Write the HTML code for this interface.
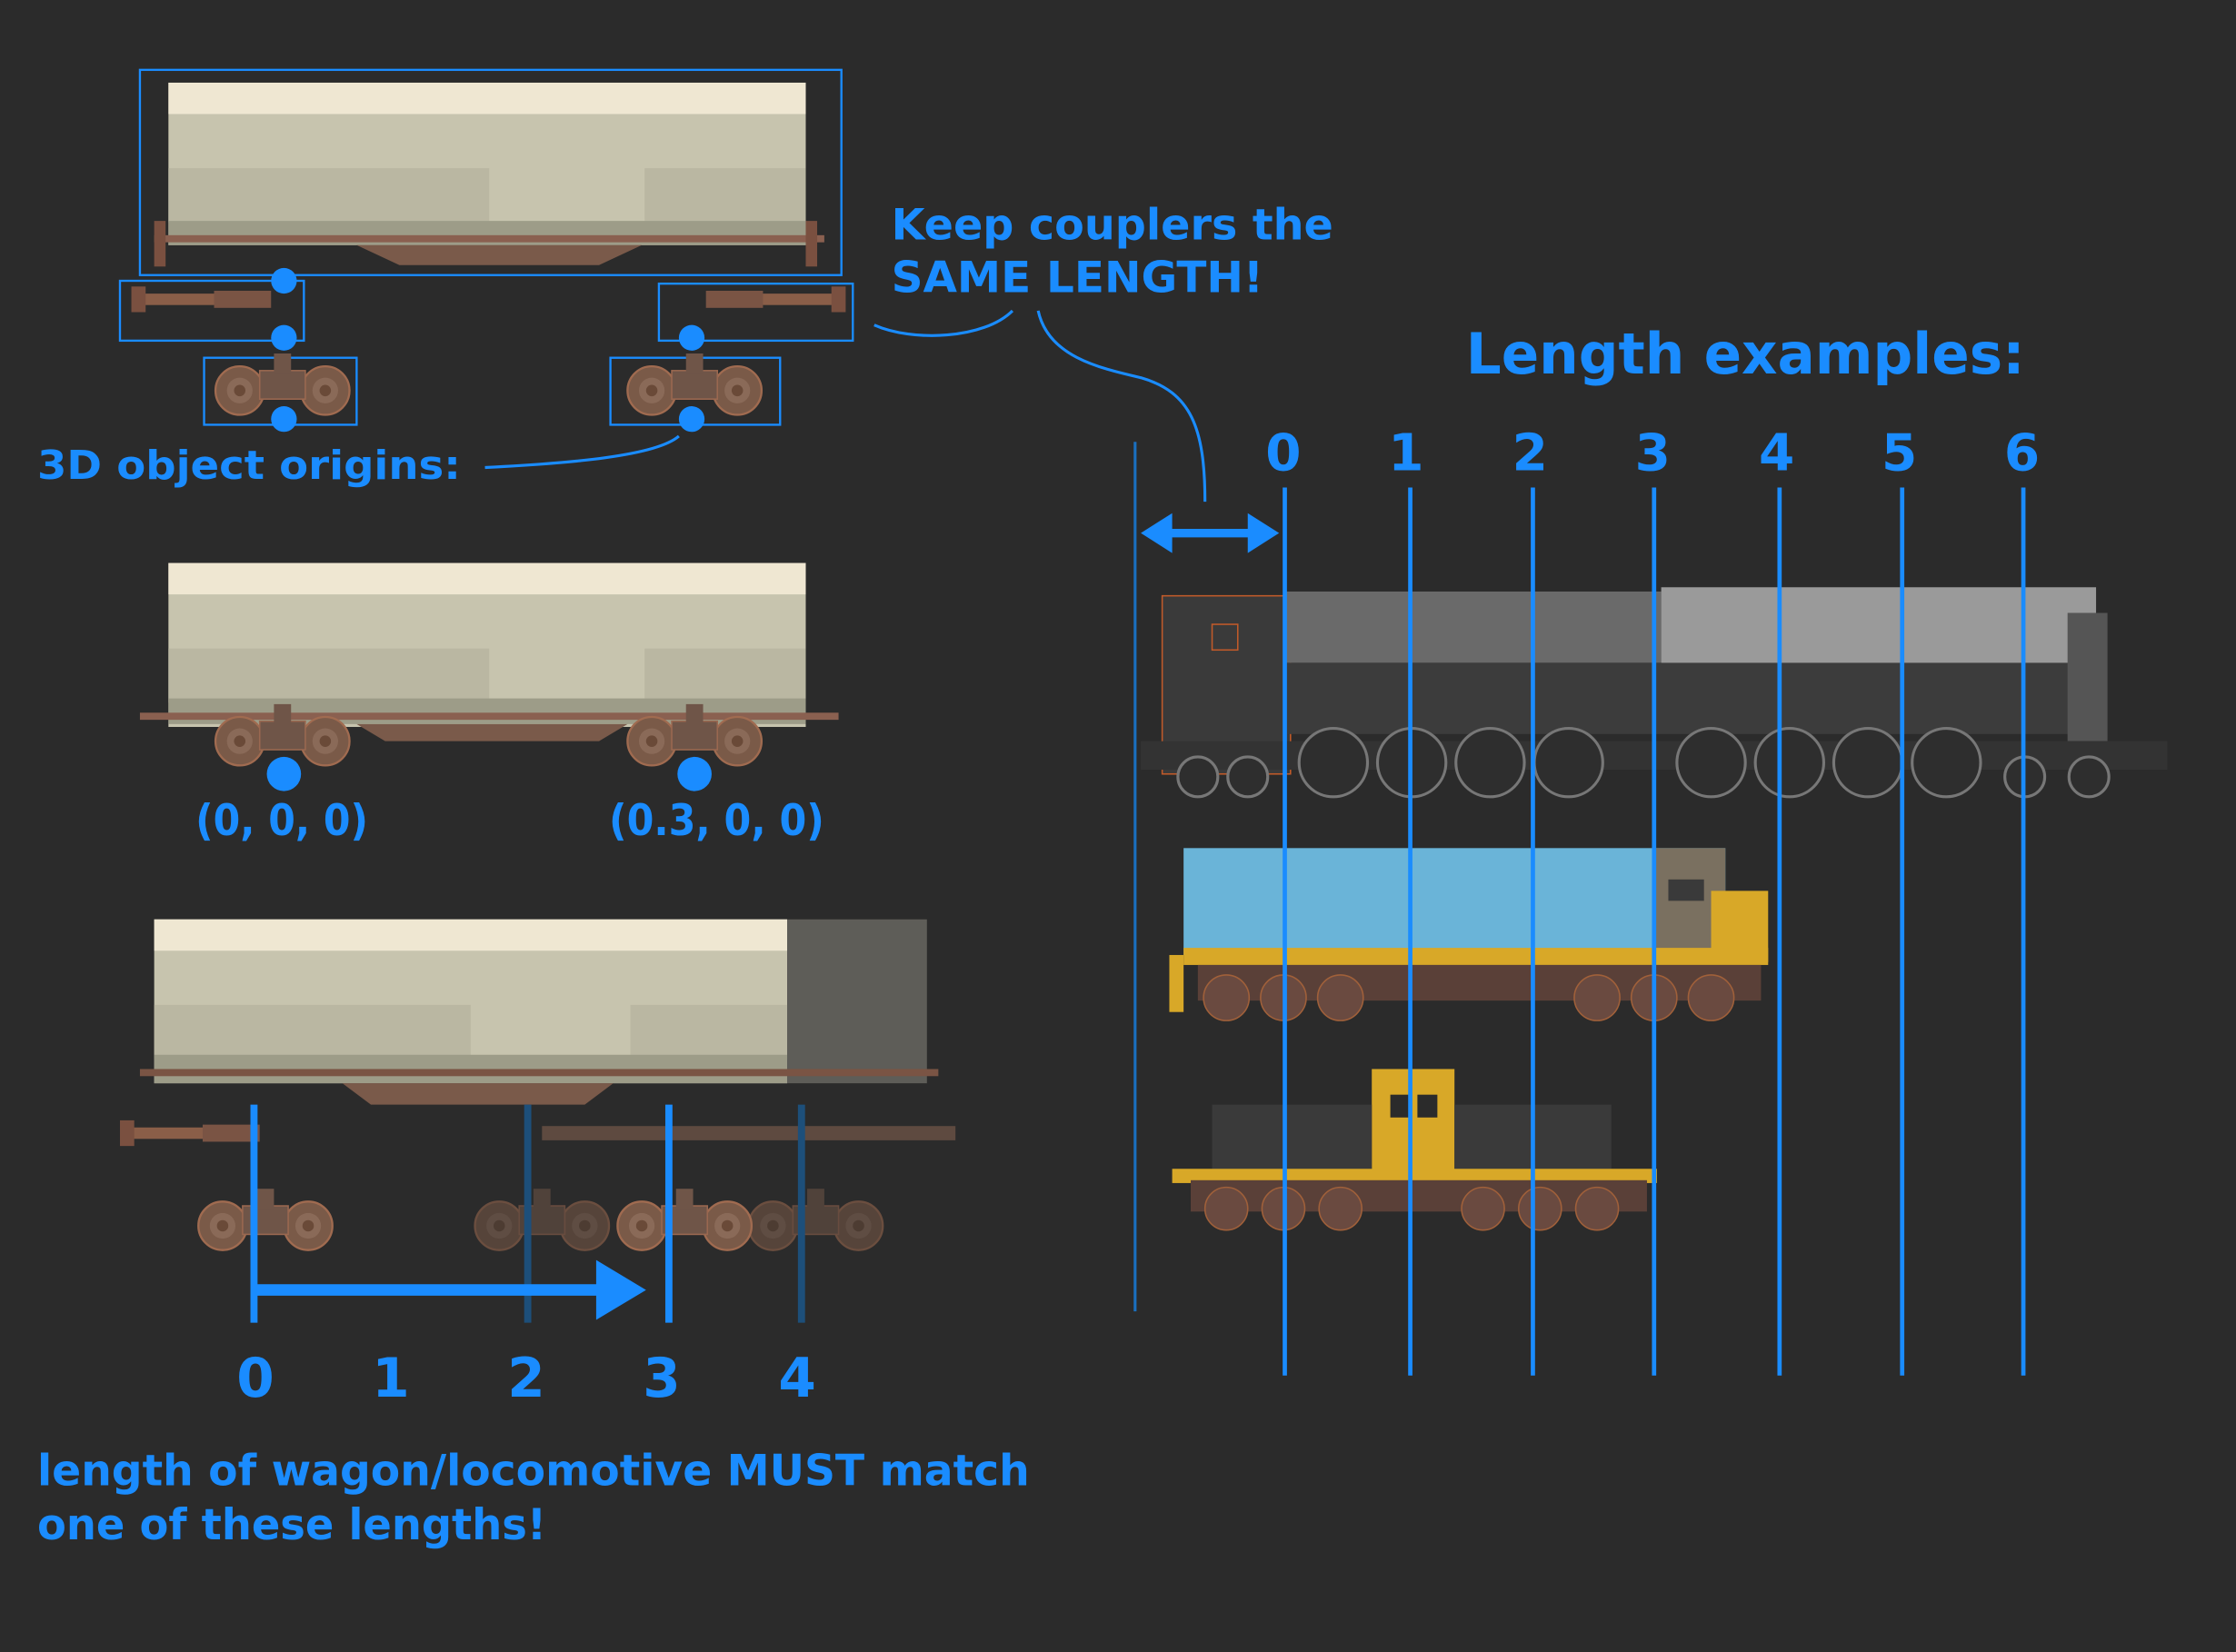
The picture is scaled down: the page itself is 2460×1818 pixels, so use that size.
<!DOCTYPE html>
<html><head><meta charset="utf-8"><style>
html,body{margin:0;padding:0;background:#2b2b2b;width:2460px;height:1818px;overflow:hidden}
svg{display:block}
text{font-family:"DejaVu Sans","Liberation Sans",Arial,sans-serif;font-weight:bold;fill:#1a8cff}
</style></head><body>
<svg width="2460" height="1818" viewBox="0 0 1568 1159" xmlns="http://www.w3.org/2000/svg">
<defs>
<g id="wheel"><circle r="17" fill="#7a5a48" stroke="#a06b50" stroke-width="1.5"/><circle r="9" fill="#8a6a58"/><circle r="4" fill="#6a4a38"/></g>
<g id="bogie"><use href="#wheel" x="-30"/><use href="#wheel" x="30"/><rect x="-16" y="-14" width="32" height="20" fill="#6f5548" stroke="#9a6850"/><rect x="-6" y="-26" width="12" height="14" fill="#6f5548"/></g>
<g id="coupL"><rect x="0" y="-4" width="80" height="8" fill="#8a5e48"/><rect x="-8" y="-9" width="10" height="18" fill="#7a5040"/><rect x="50" y="-6" width="40" height="12" fill="#7a5444"/></g>
</defs>
<rect width="1568" height="1159" fill="#2b2b2b"/>

<!-- Wagon 1 -->
<g>
<rect x="118" y="58" width="447" height="114" fill="#c7c4ae"/>
<rect x="118" y="58" width="447" height="22" fill="#efe7d2"/>
<rect x="118" y="118" width="225" height="38" fill="#bab7a2"/>
<rect x="452" y="118" width="113" height="38" fill="#bab7a2"/>
<rect x="118" y="155" width="447" height="17" fill="#9d9c88"/>
<rect x="108" y="165" width="470" height="5" fill="#8a6050"/>
<path d="M250 172 L280 186 L420 186 L450 172 Z" fill="#7a5a4a"/>
<rect x="108" y="155" width="8" height="32" fill="#7a5040"/><rect x="565" y="155" width="8" height="32" fill="#7a5040"/>
</g>
<rect x="98" y="49" width="492" height="144" fill="none" stroke="#1a8cff" stroke-width="1.5"/>
<rect x="84" y="197" width="129" height="42" fill="none" stroke="#1a8cff" stroke-width="1.5"/>
<rect x="462" y="199" width="136" height="40" fill="none" stroke="#1a8cff" stroke-width="1.5"/>
<rect x="143" y="251" width="107" height="47" fill="none" stroke="#1a8cff" stroke-width="1.5"/>
<rect x="428" y="251" width="119" height="47" fill="none" stroke="#1a8cff" stroke-width="1.5"/>
<use href="#coupL" x="100" y="210"/>
<use href="#coupL" transform="translate(585 210) scale(-1 1)"/>
<use href="#bogie" x="198" y="274"/>
<use href="#bogie" x="487" y="274"/>
<g fill="#1a8cff"><circle cx="199" cy="197" r="9"/><circle cx="199" cy="237" r="9"/><circle cx="199" cy="294" r="9"/><circle cx="485" cy="237" r="9"/><circle cx="485" cy="294" r="9"/></g>
<text x="26" y="336" font-size="28" textLength="297" lengthAdjust="spacingAndGlyphs">3D object origins:</text>
<path d="M340 328 C 400 325, 460 320, 476 306" fill="none" stroke="#1a8cff" stroke-width="2"/>
<text x="625" y="168" font-size="30" textLength="310" lengthAdjust="spacingAndGlyphs">Keep couplers the</text>
<text x="625" y="205" font-size="30" textLength="261" lengthAdjust="spacingAndGlyphs">SAME LENGTH!</text>
<path d="M613 228 C 640 240, 690 238, 710 218" fill="none" stroke="#1a8cff" stroke-width="2"/>
<path d="M728 218 C 735 250, 770 258, 800 265 C 835 275, 845 300, 845 352" fill="none" stroke="#1a8cff" stroke-width="2"/>

<!-- Wagon 2 -->
<g>
<rect x="118" y="395" width="447" height="115" fill="#c7c4ae"/>
<rect x="118" y="395" width="447" height="22" fill="#efe7d2"/>
<rect x="118" y="455" width="225" height="38" fill="#bab7a2"/>
<rect x="452" y="455" width="113" height="38" fill="#bab7a2"/>
<rect x="118" y="490" width="447" height="18" fill="#9d9c88"/>
<rect x="98" y="500" width="490" height="5" fill="#8a6050"/>
<path d="M250 508 L270 520 L420 520 L440 508 Z" fill="#7a5a4a"/>
</g>
<use href="#bogie" x="198" y="520"/><use href="#bogie" x="487" y="520"/>
<circle cx="199" cy="543" r="12" fill="#1a8cff"/><circle cx="487" cy="543" r="12" fill="#1a8cff"/>
<text x="137" y="586" font-size="30" textLength="121" lengthAdjust="spacingAndGlyphs">(0, 0, 0)</text>
<text x="427" y="586" font-size="30" textLength="151" lengthAdjust="spacingAndGlyphs">(0.3, 0, 0)</text>

<!-- Wagon 3 -->
<g>
<rect x="108" y="645" width="444" height="115" fill="#c7c4ae"/>
<rect x="108" y="645" width="444" height="22" fill="#efe7d2"/>
<rect x="108" y="705" width="222" height="38" fill="#bab7a2"/>
<rect x="442" y="705" width="110" height="38" fill="#bab7a2"/>
<rect x="108" y="740" width="444" height="20" fill="#9d9c88"/>
<rect x="552" y="645" width="98" height="115" fill="#5e5d58"/>
<rect x="98" y="750" width="560" height="5" fill="#7a5444"/>
<path d="M240 760 L260 775 L410 775 L430 760 Z" fill="#7a5a4a"/>
</g>
<use href="#coupL" x="92" y="795"/>
<rect x="380" y="790" width="290" height="10" fill="#5e4a40"/>
<use href="#bogie" x="186" y="860"/>
<g opacity="0.55"><use href="#bogie" x="380" y="860"/><use href="#bogie" x="572" y="860"/></g>
<use href="#bogie" x="480" y="860"/>
<line x1="370" y1="775" x2="370" y2="928" stroke="#1d4f7a" stroke-width="5"/>
<line x1="562" y1="775" x2="562" y2="928" stroke="#1d4f7a" stroke-width="5"/>
<line x1="178" y1="775" x2="178" y2="928" stroke="#1a8cff" stroke-width="5"/>
<line x1="469" y1="775" x2="469" y2="928" stroke="#1a8cff" stroke-width="5"/>
<line x1="178" y1="905" x2="425" y2="905" stroke="#1a8cff" stroke-width="8"/>
<path d="M418 884 L453 905 L418 926 Z" fill="#1a8cff"/>
<g font-size="38" text-anchor="middle"><text x="179" y="980">0</text><text x="274" y="980">1</text><text x="369" y="980">2</text><text x="464" y="980">3</text><text x="559" y="980">4</text></g>
<text x="26" y="1042" font-size="30" textLength="696" lengthAdjust="spacingAndGlyphs">length of wagon/locomotive MUST match</text>
<text x="26" y="1080" font-size="30" textLength="357" lengthAdjust="spacingAndGlyphs">one of these lengths!</text>

<!-- Right side -->
<text x="1028" y="262" font-size="40" textLength="392" lengthAdjust="spacingAndGlyphs">Length examples:</text>
<g font-size="36" text-anchor="middle"><text x="900" y="330">0</text><text x="986" y="330">1</text><text x="1073" y="330">2</text><text x="1159" y="330">3</text><text x="1246" y="330">4</text><text x="1332" y="330">5</text><text x="1418" y="330">6</text></g>

<!-- steam loco -->
<g>
<rect x="815" y="418" width="90" height="125" fill="#3a3a3a" stroke="#c05a2a" stroke-width="1"/>
<rect x="900" y="415" width="265" height="50" fill="#6a6a6a"/>
<rect x="1165" y="412" width="305" height="62" fill="#9a9a9a"/>
<rect x="900" y="465" width="570" height="50" fill="#3c3c3c"/>
<rect x="1450" y="430" width="28" height="90" fill="#555"/>
<rect x="800" y="520" width="720" height="20" fill="#333"/>
<g fill="#2e2e2e" stroke="#777" stroke-width="2">
<circle cx="840" cy="545" r="14"/><circle cx="875" cy="545" r="14"/>
<circle cx="935" cy="535" r="24"/><circle cx="990" cy="535" r="24"/><circle cx="1045" cy="535" r="24"/><circle cx="1100" cy="535" r="24"/>
<circle cx="1200" cy="535" r="24"/><circle cx="1255" cy="535" r="24"/><circle cx="1310" cy="535" r="24"/><circle cx="1365" cy="535" r="24"/>
<circle cx="1420" cy="545" r="14"/><circle cx="1465" cy="545" r="14"/></g>
<rect x="850" y="438" width="18" height="18" fill="none" stroke="#c05a2a"/>
</g>
<!-- diesel 1 -->
<g>
<rect x="830" y="595" width="380" height="75" fill="#6ab4d8"/>
<rect x="1160" y="595" width="50" height="75" fill="#7a7060"/>
<rect x="1200" y="625" width="40" height="50" fill="#d8a828"/>
<rect x="830" y="665" width="410" height="12" fill="#d8a828"/>
<rect x="820" y="670" width="10" height="40" fill="#d8a828"/>
<rect x="840" y="677" width="395" height="25" fill="#5a4038"/>
<g fill="#6a4a40" stroke="#a0603a"><circle cx="860" cy="700" r="16"/><circle cx="900" cy="700" r="16"/><circle cx="940" cy="700" r="16"/><circle cx="1120" cy="700" r="16"/><circle cx="1160" cy="700" r="16"/><circle cx="1200" cy="700" r="16"/></g>
<rect x="1170" y="617" width="25" height="15" fill="#3a3a3a"/>
</g>
<!-- diesel 2 -->
<g>
<rect x="962" y="750" width="58" height="75" fill="#d8a828"/>
<rect x="850" y="775" width="112" height="50" fill="#3a3a3a"/>
<rect x="1020" y="775" width="110" height="50" fill="#3a3a3a"/>
<rect x="822" y="820" width="340" height="10" fill="#d8a828"/>
<rect x="835" y="828" width="320" height="22" fill="#5a4038"/>
<g fill="#6a4a40" stroke="#a0603a"><circle cx="860" cy="848" r="15"/><circle cx="900" cy="848" r="15"/><circle cx="940" cy="848" r="15"/><circle cx="1040" cy="848" r="15"/><circle cx="1080" cy="848" r="15"/><circle cx="1120" cy="848" r="15"/></g>
<rect x="975" y="768" width="14" height="16" fill="#2b2b2b"/><rect x="994" y="768" width="14" height="16" fill="#2b2b2b"/>
</g>

<line x1="796" y1="310" x2="796" y2="920" stroke="#1a6fbf" stroke-width="2"/>
<g stroke="#1a8cff" stroke-width="3">
<line x1="901" y1="342" x2="901" y2="965"/><line x1="989" y1="342" x2="989" y2="965"/><line x1="1075" y1="342" x2="1075" y2="965"/><line x1="1160" y1="342" x2="1160" y2="965"/><line x1="1248" y1="342" x2="1248" y2="965"/><line x1="1334" y1="342" x2="1334" y2="965"/><line x1="1419" y1="342" x2="1419" y2="965"/>
</g>
<line x1="815" y1="374" x2="882" y2="374" stroke="#1a8cff" stroke-width="6"/>
<path d="M800 374 L822 360 L822 388 Z" fill="#1a8cff"/>
<path d="M897 374 L875 360 L875 388 Z" fill="#1a8cff"/>
</svg>
</body></html>
